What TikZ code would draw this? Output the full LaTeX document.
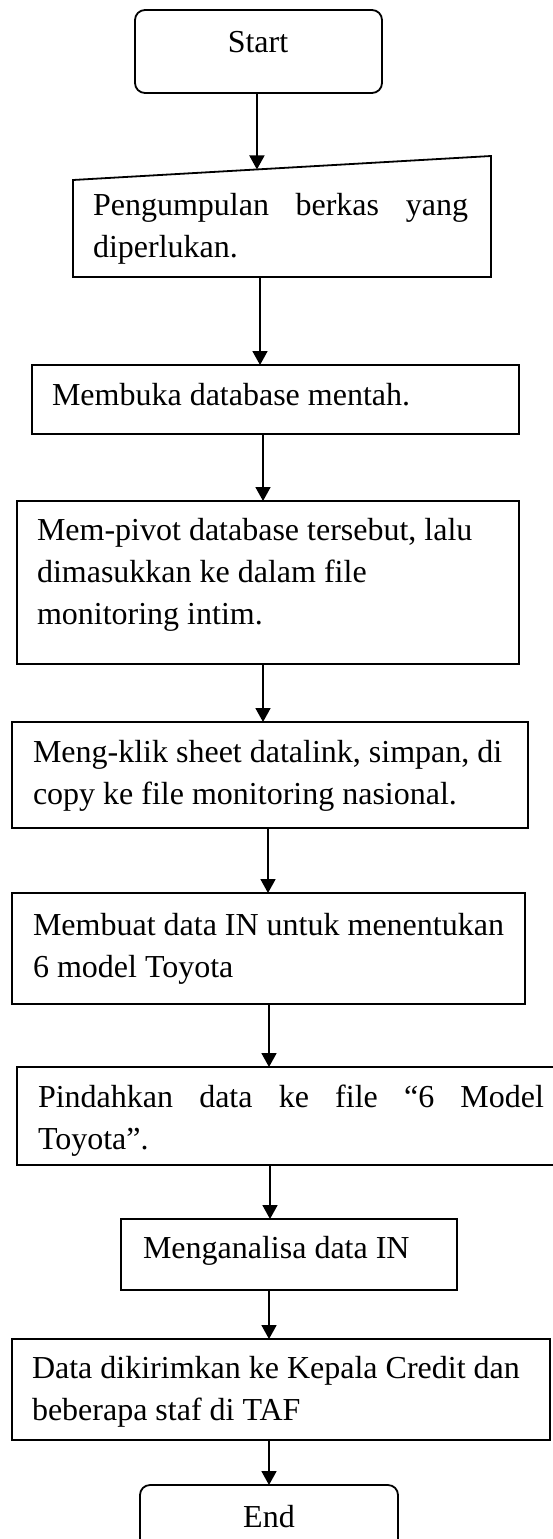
\documentclass[tikz,border=0pt]{standalone}
\usepackage{fontspec}
\setmainfont{Liberation Serif}
\usetikzlibrary{arrows.meta,calc}
\newcommand{\lines}[1]{\begin{tabular}[t]{@{}l@{}}#1\end{tabular}}
\tikzset{
  box/.style={draw, line width=1.8pt, inner sep=0pt, outer sep=0pt, anchor=north west},
  termbox/.style={box, rounded corners=10pt},
  hidden/.style={inner sep=0pt, outer sep=0pt, anchor=north west},
  txt/.style={inner sep=0pt, outer sep=0pt, anchor=base west, font=\fontsize{32}{42}\selectfont},
  ctxt/.style={txt, anchor=base},
  arr/.style={line width=1.8pt, -{Triangle[length=14pt,width=15pt]}}
}
\begin{document}
\begin{tikzpicture}[x=1pt,y=-1pt]
\useasboundingbox (0,0) rectangle (552,1539);
% terminals and boxes
\node[termbox, minimum width=247pt, minimum height=83pt] (start) at (135,10) {};
\node[hidden, minimum width=418pt, minimum height=121pt] (mi) at (73,156) {};
\coordinate (mitl) at ($(mi.north west)+(0,24)$);
\draw[line width=1.8pt] (mitl) -- (mi.north east) -- (mi.south east) -- (mi.south west) -- cycle;
\node[box, minimum width=487pt, minimum height=69pt] (b2) at (32,365) {};
\node[box, minimum width=502pt, minimum height=163pt] (b3) at (17,501) {};
\node[box, minimum width=516pt, minimum height=106pt] (b4) at (12,722) {};
\node[box, minimum width=513pt, minimum height=111pt] (b5) at (12,893) {};
\node[box, minimum width=543pt, minimum height=98pt] (b6) at (17,1067) {};
\node[box, minimum width=336pt, minimum height=71pt] (b7) at (121,1219) {};
\node[box, minimum width=538pt, minimum height=101pt] (b8) at (12,1339) {};
\node[termbox, minimum width=258pt, minimum height=90pt] (end) at (140,1485) {};
% texts
\node[ctxt] (tstart) at (258,52) {Start};
\node[txt] (tmi) at (93,215) {\lines{\makebox[375pt][s]{Pengumpulan berkas yang}\\diperlukan.}};
\node[txt] (t2) at (52,405) {Membuka database mentah.};
\node[txt] (t3) at (37,540) {\lines{Mem-pivot database tersebut, lalu\\dimasukkan ke dalam file\\monitoring intim.}};
\node[txt] (t4) at (33,762) {\lines{Meng-klik sheet datalink, simpan, di\\copy ke file monitoring nasional.}};
\node[txt] (t5) at (33,935) {\lines{Membuat data IN untuk menentukan\\6 model Toyota}};
\node[txt] (t6) at (38,1107) {\lines{\makebox[506pt][s]{Pindahkan data ke file “6 Model}\\Toyota”.}};
\node[txt] (t7) at (143,1258) {Menganalisa data IN};
\node[txt] (t8) at (32,1378) {\lines{Data dikirimkan ke Kepala Credit dan\\beberapa staf di TAF}};
\node[ctxt] (tend) at (269,1527) {End};
% connectors
\draw[arr] ([xshift=-1.5pt]start.south) -- ($(mitl)!0.44!(mi.north east)$);
\draw[arr] ([xshift=-22pt]mi.south) -- ([xshift=-15.5pt]b2.north);
\draw[arr] ([xshift=-12.5pt]b2.south) -- ([xshift=-5pt]b3.north);
\draw[arr] ([xshift=-5pt]b3.south) -- ([xshift=-7pt]b4.north);
\draw[arr] ([xshift=-2pt]b4.south) -- ([xshift=-0.5pt]b5.north);
\draw[arr] ([xshift=0.5pt]b5.south) -- ([xshift=-19.5pt]b6.north);
\draw[arr] ([xshift=-18.5pt]b6.south) -- ([xshift=-19pt]b7.north);
\draw[arr] ([xshift=-20pt]b7.south) -- ([xshift=-12pt]b8.north);
\draw[arr] ([xshift=-12pt]b8.south) -- (end.north);
\end{tikzpicture}
\end{document}
